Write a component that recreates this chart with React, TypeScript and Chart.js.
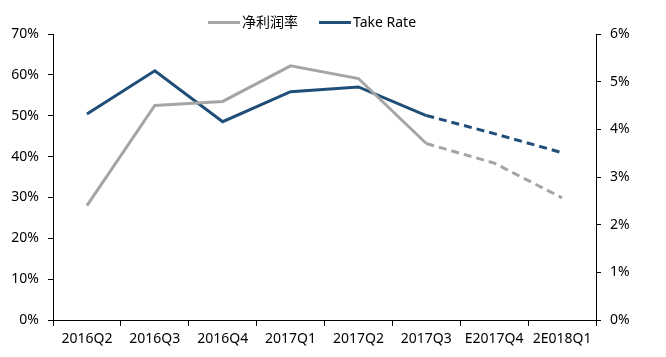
import React, { useEffect, useRef } from "react";
import { Chart, registerables } from "chart.js";

Chart.register(...registerables);

const categories = ["2016Q2", "2016Q3", "2016Q4", "2017Q1", "2017Q2", "2017Q3", "E2017Q4", "2E018Q1"];
const netMargin = [28.0, 52.5, 53.5, 62.2, 59.1, 43.2, 38.4, 29.9];
const takeRate = [4.32, 5.23, 4.16, 4.79, 4.89, 4.29, 3.91, 3.51];
const leftTicks = [0, 10, 20, 30, 40, 50, 60, 70];
const rightTicks = [0, 1, 2, 3, 4, 5, 6];
const seriesNames = ["净利润率", "Take Rate"];
const seriesColors = ["#A5A5A5", "#1F4E79"];
const forecastFrom = 5;

const FONT = "'Noto Sans', 'Noto Sans CJK SC', sans-serif";

export default function App() {
  const ref = useRef<HTMLCanvasElement | null>(null);
  useEffect(() => {
    if (!ref.current) return;
    const dash = (ctx: any) => (ctx.p0DataIndex >= forecastFrom ? [8, 5] : undefined);
    const tickFont = { family: FONT, size: 14 };
    const chart = new Chart(ref.current, {
      type: "line",
      data: {
        labels: categories,
        datasets: [
          {
            label: seriesNames[0],
            data: netMargin,
            borderColor: seriesColors[0],
            backgroundColor: seriesColors[0],
            borderWidth: 3,
            pointRadius: 0,
            tension: 0,
            yAxisID: "y",
            segment: { borderDash: dash },
          },
          {
            label: seriesNames[1],
            data: takeRate,
            borderColor: seriesColors[1],
            backgroundColor: seriesColors[1],
            borderWidth: 3,
            pointRadius: 0,
            tension: 0,
            yAxisID: "y1",
            segment: { borderDash: dash },
          },
        ],
      },
      options: {
        animation: false,
        responsive: false,
        maintainAspectRatio: false,
        layout: { padding: { left: 0, right: 0, top: 34, bottom: 0 } },
        plugins: {
          tooltip: { enabled: false },
          legend: { display: false },
        },
        scales: {
          x: {
            offset: true,
            grid: { display: true, drawOnChartArea: false, offset: true, color: "#000", tickLength: 6 },
            border: { display: true, color: "#000", width: 1 },
            ticks: { color: "#000", font: tickFont, padding: 5, maxRotation: 0, autoSkip: false },
            afterFit: (s: any) => { s.height = 37; },
          },
          y: {
            position: "left",
            min: 0,
            max: 70,
            afterBuildTicks: (s: any) => { s.ticks = leftTicks.map((v) => ({ value: v })); },
            grid: { display: true, drawOnChartArea: false, color: "#000", tickLength: 5 },
            border: { display: true, color: "#000", width: 1 },
            ticks: { color: "#000", font: tickFont, padding: 9, callback: (v: any) => v + "%" },
            afterFit: (s: any) => { s.width = 53; },
          },
          y1: {
            position: "right",
            min: 0,
            max: 6,
            afterBuildTicks: (s: any) => { s.ticks = rightTicks.map((v) => ({ value: v })); },
            grid: { display: true, drawOnChartArea: false, color: "#000", tickLength: 5 },
            border: { display: true, color: "#000", width: 1 },
            ticks: { color: "#000", font: tickFont, padding: 9, callback: (v: any) => v + "%" },
            afterFit: (s: any) => { s.width = 70; },
          },
        },
      },
    });
    return () => chart.destroy();
  }, []);
  return (
    <div style={{ position: "absolute", left: 0, top: 0, width: 666, height: 357, background: "#fff" }}>
      <canvas ref={ref} width={666} height={357} style={{ width: 666, height: 357, display: "block" }} />
      <div
        style={{
          position: "absolute",
          left: 208,
          top: 12,
          display: "flex",
          alignItems: "center",
          fontFamily: FONT,
          fontSize: 14,
          lineHeight: "20px",
          color: "#000",
          whiteSpace: "nowrap",
        }}
      >
        {seriesNames.map((n, i) => (
          <div key={n} style={{ display: "flex", alignItems: "center", marginRight: i === 0 ? 21 : 0 }}>
            <span style={{ display: "inline-block", width: 32, height: 3, background: seriesColors[i], marginRight: 2 }} />
            <span>{n}</span>
          </div>
        ))}
      </div>
    </div>
  );
}
